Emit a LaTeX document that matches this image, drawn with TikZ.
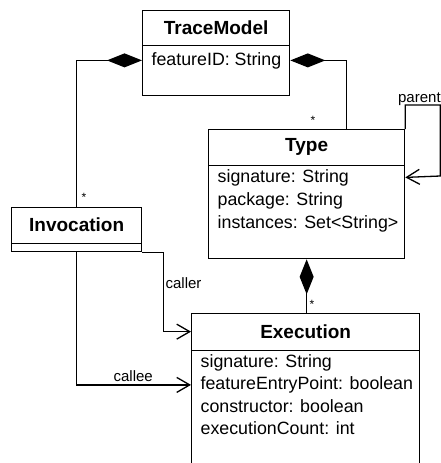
\documentclass[tikz,border=0pt]{standalone}
\usepackage{fontspec}
\setmainfont{Liberation Sans}
\usetikzlibrary{arrows.meta}
\begin{document}
\begin{tikzpicture}[x=1pt,y=-1pt,line width=1.3pt,
  classbox/.style={draw,rectangle,inner sep=0pt,anchor=north west},
  classname/.style={inner sep=0pt,anchor=north west,font=\bfseries\fontsize{19}{22}\selectfont},
  attr/.style={inner sep=0pt,anchor=base west,font=\fontsize{17.8}{22}\selectfont},
  rolelabel/.style={inner sep=0pt,font=\fontsize{15}{18}\selectfont},
  mult/.style={inner sep=0pt,anchor=base,font=\fontsize{12}{14}\selectfont},
  compo/.style={-{Diamond[length=35pt,width=14pt]}},
  navig/.style={-{Straight Barb[length=13pt,width=15pt]}}]
\useasboundingbox (0,0) rectangle (441,463);
\node[classbox,minimum width=147pt,minimum height=85pt] (tm) at (142,10) {};
\node[classname,minimum width=147pt,minimum height=34pt] (tm-name) at (142,10) {TraceModel};
\draw (tm-name.south west) -- (tm-name.south east);
\node[attr] (tm-a1) at (151,65) {featureID: String};
\node[classbox,minimum width=196pt,minimum height=129pt] (type) at (208,129) {};
\node[classname,minimum width=196pt,minimum height=35pt] (type-name) at (208,129) {Type};
\draw (type-name.south west) -- (type-name.south east);
\node[attr] (type-a1) at (217,182) {signature: String};
\node[attr] (type-a2) at (217,205) {package: String};
\node[attr] (type-a3) at (217,228) {instances: Set<String>};
\node[classbox,minimum width=130pt,minimum height=44pt] (inv) at (11,207) {};
\node[classname,minimum width=130pt,minimum height=35pt] (inv-name) at (11,207) {Invocation};
\draw (inv-name.south west) -- (inv-name.south east);
\node[classbox,minimum width=228pt,minimum height=160pt] (exec) at (191,313) {};
\node[classname,minimum width=228pt,minimum height=36pt] (exec-name) at (191,313) {Execution};
\draw (exec-name.south west) -- (exec-name.south east);
\node[attr] (exec-a1) at (200,367) {signature: String};
\node[attr] (exec-a2) at (200,389.5) {featureEntryPoint: boolean};
\node[attr] (exec-a3) at (200,412) {constructor: boolean};
\node[attr] (exec-a4) at (200,434.5) {executionCount: int};
\draw[compo] (inv.north) |- (tm.west |- tm-a1);
\draw[compo] ([xshift=40pt]type.north) |- (tm.east |- tm-a1);
\draw[compo] (type.south |- exec.north) -- (type.south);
\draw[navig] (type.north east) -- ++(0,-24) -| ++(35,71) -- (type.east |- type-a1);
\draw[navig] (inv.south east) -- ++(21,0) |- (exec-name.west);
\draw[navig] (inv.south) |- (exec.west |- exec-a2);
\node[rolelabel,anchor=base west] (parent) at (397.5,102) {parent};
\node[rolelabel,anchor=west] (caller) at (165,283) {caller};
\node[rolelabel,anchor=west] (callee) at (113,376) {callee};
\node[mult] (m-type) at (313,124) {*};
\node[mult] (m-inv) at (84,201) {*};
\node[mult] (m-exec) at (312,308) {*};
\end{tikzpicture}
\end{document}
